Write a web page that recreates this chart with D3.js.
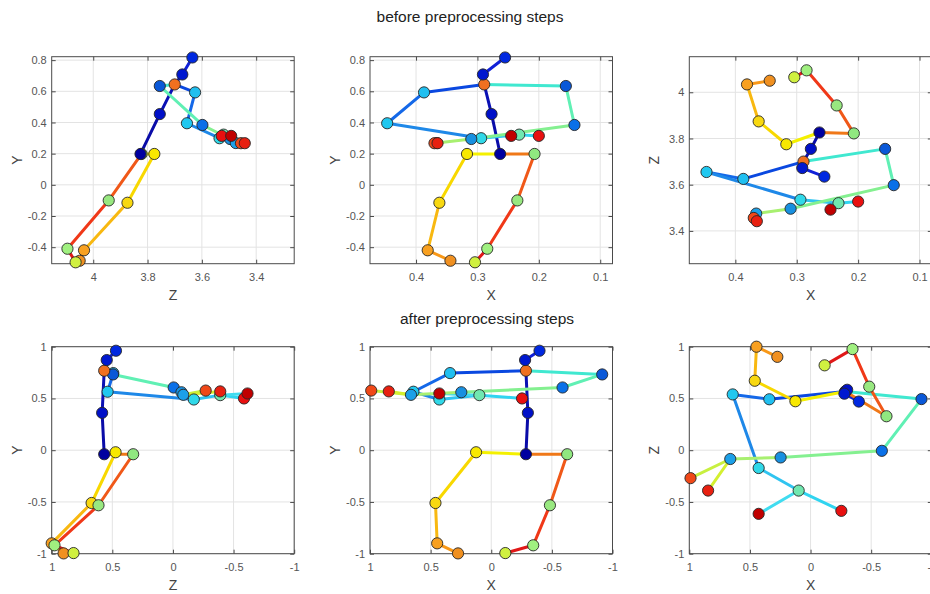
<!DOCTYPE html>
<html><head><meta charset="utf-8">
<script src="https://cdn.jsdelivr.net/npm/d3@7"></script>
<style>
body{margin:0;background:#fff}
svg{display:block;font-family:"Liberation Sans",Arial,Helvetica,sans-serif}
</style>
</head><body><svg id="c" width="930" height="594"></svg>
<script>
// Kinect v2 joints (index order)
const jointNames = ["SpineBase","SpineMid","Neck","Head","ShoulderLeft","ElbowLeft","WristLeft","HandLeft",
  "ShoulderRight","ElbowRight","WristRight","HandRight","HipLeft","KneeLeft","AnkleLeft","FootLeft",
  "HipRight","KneeRight","AnkleRight","FootRight","SpineShoulder","HandTipLeft","ThumbLeft","HandTipRight","ThumbRight"];

// before preprocessing
const xBefore = [0.263,0.277,0.291,0.255,0.387,0.447,0.294,0.232,0.156,0.142,0.310,0.366,0.317,0.362,0.381,0.344,0.207,0.235,0.284,0.304,0.289,0.200,0.245,0.370,0.365];
const yBefore = [0.198,0.454,0.708,0.817,0.593,0.395,0.299,0.322,0.634,0.384,0.294,0.268,0.198,-0.115,-0.420,-0.487,0.198,-0.100,-0.410,-0.497,0.644,0.314,0.314,0.267,0.267];
const zBefore = [3.826,3.755,3.672,3.635,3.625,3.655,3.535,3.520,3.755,3.598,3.496,3.475,3.775,3.874,4.034,4.050,3.822,3.943,4.095,4.065,3.700,3.527,3.492,3.456,3.442];

// after preprocessing
const xAfter = [-0.286,-0.302,-0.279,-0.398,0.340,0.642,0.428,0.098,-0.915,-0.588,0.247,0.662,0.125,0.460,0.446,0.274,-0.626,-0.484,-0.346,-0.116,-0.286,-0.254,0.428,0.990,0.845];
const yAfter = [-0.039,0.361,0.871,0.961,0.745,0.565,0.490,0.532,0.732,0.606,0.560,0.535,-0.020,-0.510,-0.900,-0.997,-0.039,-0.532,-0.919,-0.994,0.768,0.500,0.548,0.576,0.568];
const zAfter = [0.567,0.584,0.546,0.470,0.492,0.539,-0.172,-0.390,0.494,-0.006,-0.070,-0.085,0.473,0.671,1.000,0.902,0.328,0.614,0.977,0.820,0.567,-0.586,-0.615,-0.270,-0.390];

// skeleton bones
const bones = [[3,2],[2,20],[20,1],[1,0],
  [20,4],[4,5],[5,6],[6,7],[7,21],[7,22],
  [20,8],[8,9],[9,10],[10,11],[11,23],[11,24],
  [0,12],[12,13],[13,14],[14,15],
  [0,16],[16,17],[17,18],[18,19]];

// tick labels
const zTicksBefore = [3.4,3.6,3.8,4];
const yTicksBefore = [-0.4,-0.2,0,0.2,0.4,0.6,0.8];
const xTicksBefore = [0.1,0.2,0.3,0.4];
const ticksAfter = [-1,-0.5,0,0.5,1];

// styles
const boneColors = ["#1020d8","#0a14c4","#0a10b4","#0a0ca8",
  "#0a48e0","#1468e8","#1e88e8","#30c4f0","#30d4f0","#40dcf0",
  "#40e8d0","#60f0b4","#84f090","#a8f070","#c8f040","#d4f030",
  "#f4f000","#f8d800","#f8b810","#f89818",
  "#f07818","#f05818","#f03818","#e01818"];
const jointColors = ["#0000a0","#0010c8","#0018d0","#0028e0","#20bff0","#20c8f0","#30d8e8","#70e8b0",
  "#0a58d8","#0a70e8","#1890e0","#1ca0e8","#f8e800","#f8d810","#f8a020","#f09020",
  "#90e880","#98e880","#a0f080","#d0f040","#f07020","#e81010","#c00000","#f04818","#e82010"];
const drawOrder = [4,5,6,7,8,9,10,11,12,13,14,15,16,17,18,19,20,21,22,23,24,0,1,2,3];

const colLeft = [51.7, 370, 689.3], plotW = 242.5;
const rowTop = [56.7, 346.7], plotH = 207;

const panels = [
  {r:0,c:0,h:zBefore,v:yBefore,hDom:[4.153,3.26],vDom:[-0.506,0.822],hT:zTicksBefore,vT:yTicksBefore,hL:"Z",vL:"Y"},
  {r:0,c:1,h:xBefore,v:yBefore,hDom:[0.475,0.08],vDom:[-0.506,0.822],hT:xTicksBefore,vT:yTicksBefore,hL:"X",vL:"Y"},
  {r:0,c:2,h:xBefore,v:zBefore,hDom:[0.475,0.08],vDom:[3.258,4.154],hT:xTicksBefore,vT:zTicksBefore,hL:"X",vL:"Z"},
  {r:1,c:0,h:zAfter,v:yAfter,hDom:[1,-1],vDom:[-1,1],hT:ticksAfter,vT:ticksAfter,hL:"Z",vL:"Y"},
  {r:1,c:1,h:xAfter,v:yAfter,hDom:[1,-1],vDom:[-1,1],hT:ticksAfter,vT:ticksAfter,hL:"X",vL:"Y"},
  {r:1,c:2,h:xAfter,v:zAfter,hDom:[1,-1],vDom:[-1,1],hT:ticksAfter,vT:ticksAfter,hL:"X",vL:"Z"}
];

const svg = d3.select("#c");
svg.append("rect").attr("width",930).attr("height",594).attr("fill","#fff");

const fmt = d => String(d);

panels.forEach(p => {
  const L = colLeft[p.c], T = rowTop[p.r];
  const sx = d3.scaleLinear().domain(p.hDom).range([L, L+plotW]);
  const sy = d3.scaleLinear().domain(p.vDom).range([T+plotH, T]);
  const g = svg.append("g");
  // grid
  g.selectAll(".gx").data(p.hT).join("line")
    .attr("x1",d=>sx(d)).attr("x2",d=>sx(d)).attr("y1",T).attr("y2",T+plotH)
    .attr("stroke","#e3e3e3").attr("stroke-width",1);
  g.selectAll(".gy").data(p.vT).join("line").attr("class","gy")
    .attr("y1",d=>sy(d)).attr("y2",d=>sy(d)).attr("x1",L).attr("x2",L+plotW)
    .attr("stroke","#e3e3e3").attr("stroke-width",1);
  // axes
  const ax = [
    [d3.axisBottom(sx).tickValues(p.hT).tickFormat(fmt), `translate(0,${T+plotH})`],
    [d3.axisTop(sx).tickValues(p.hT).tickFormat(""), `translate(0,${T})`],
    [d3.axisLeft(sy).tickValues(p.vT).tickFormat(fmt), `translate(${L},0)`],
    [d3.axisRight(sy).tickValues(p.vT).tickFormat(""), `translate(${L+plotW},0)`]
  ];
  ax.forEach(([a,tr],i) => {
    a.tickSizeInner(-4).tickSizeOuter(0).tickPadding(i===0?10:5);
    const ag = g.append("g").attr("transform",tr).call(a);
    ag.select(".domain").remove();
    ag.selectAll(".tick line").attr("stroke","#4a4a4a");
    ag.selectAll(".tick text").attr("fill","#555").style("font-size","11px")
      .style("font-family","'Liberation Sans',Arial,sans-serif");
  });
  g.append("rect").attr("x",L).attr("y",T).attr("width",plotW).attr("height",plotH)
    .attr("fill","none").attr("stroke","#4a4a4a").attr("stroke-width",1);
  // axis labels
  g.append("text").attr("x",L+plotW/2).attr("y",T+plotH+36).attr("text-anchor","middle")
    .attr("fill","#444").style("font-size","14px").text(p.hL);
  g.append("text").attr("transform",`translate(${L-35},${T+plotH/2}) rotate(-90)`)
    .attr("text-anchor","middle").attr("dy","0.35em")
    .attr("fill","#444").style("font-size","14px").text(p.vL);
  // bones
  g.selectAll(".bone").data(bones).join("line")
    .attr("x1",b=>sx(p.h[b[0]])).attr("y1",b=>sy(p.v[b[0]]))
    .attr("x2",b=>sx(p.h[b[1]])).attr("y2",b=>sy(p.v[b[1]]))
    .attr("stroke",(b,i)=>boneColors[i]).attr("stroke-width",3).attr("stroke-linecap","round");
  // joints
  g.selectAll(".joint").data(drawOrder).join("circle")
    .attr("cx",j=>sx(p.h[j])).attr("cy",j=>sy(p.v[j])).attr("r",5.6)
    .attr("fill",j=>jointColors[j]).attr("stroke","#262626").attr("stroke-width",0.9);
});

svg.append("text").attr("x",470).attr("y",22).attr("text-anchor","middle")
  .attr("fill","#222").style("font-size","15.5px").text("before preprocessing steps");
svg.append("text").attr("x",487).attr("y",324).attr("text-anchor","middle")
  .attr("fill","#222").style("font-size","15.5px").text("after preprocessing steps");
</script></body></html>
